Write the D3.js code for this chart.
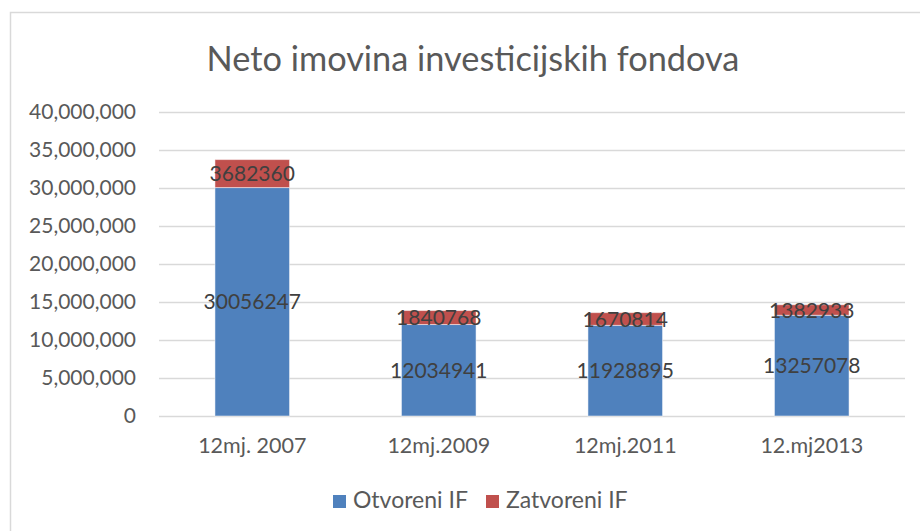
<!DOCTYPE html>
<html>
<head>
<meta charset="utf-8">
<script src="https://cdn.jsdelivr.net/npm/d3@7"></script>
<style>
  body { margin: 0; background: #fff; }
  text { font-family: Lato, "Open Sans", sans-serif; fill: #595959; }
</style>
</head>
<body>
<div id="chart"></div>
<script>
// data
var categories = ["12mj. 2007", "12mj.2009", "12mj.2011", "12.mj2013"];
var otvoreni = [30056247, 12034941, 11928895, 13257078];
var zatvoreni = [3682360, 1840768, 1670814, 1382933];
var seriesNames = ["Otvoreni IF", "Zatvoreni IF"];
var seriesColors = ["#4F81BD", "#C0504D"];
var yTicks = [0, 5000000, 10000000, 15000000, 20000000, 25000000, 30000000, 35000000, 40000000];

var width = 920, height = 531;

var svg = d3.select("#chart").append("svg")
    .attr("width", width)
    .attr("height", height);

// chart frame (right and bottom edges run off the picture)
svg.append("rect")
    .attr("x", 10.5).attr("y", 12.5)
    .attr("width", 940).attr("height", 560)
    .attr("fill", "#fff")
    .attr("stroke", "#d9d9d9")
    .attr("stroke-width", 1.5);

// title, sized to fit its width in the reference
var title = svg.append("text")
    .attr("x", 473).attr("y", 71)
    .attr("text-anchor", "middle")
    .style("font-size", "30px")
    .text("Neto imovina investicijskih fondova");
var tw = title.node().getComputedTextLength();
title.style("font-size", (30 * 533 / tw) + "px");

var x = d3.scaleBand()
    .domain(categories)
    .range([159, 905])
    .paddingInner(0.6)
    .paddingOuter(0.3);

var y = d3.scaleLinear()
    .domain([0, 40000000])
    .range([416, 112]);

// gridlines + y labels
var yAxis = svg.append("g")
    .attr("transform", "translate(159,0)")
    .call(d3.axisLeft(y)
        .tickValues(yTicks)
        .tickSize(-746)
        .tickPadding(23)
        .tickFormat(d3.format(",")));
yAxis.select(".domain").remove();
yAxis.selectAll(".tick line").attr("stroke", "#d9d9d9").attr("stroke-width", 1.5);
yAxis.selectAll(".tick text")
    .style("font-size", "21px")
    .style("font-family", "Lato, sans-serif")
    .attr("fill", "#595959");

// x labels
var xAxis = svg.append("g")
    .attr("transform", "translate(0,416)")
    .call(d3.axisBottom(x).tickSize(0).tickPadding(22));
xAxis.select(".domain").remove();
xAxis.selectAll(".tick text")
    .style("font-size", "21.5px")
    .style("font-family", "Lato, sans-serif")
    .attr("fill", "#595959");

// stacked bars
var rows = categories.map(function(c, i) {
    return { cat: c, Otvoreni: otvoreni[i], Zatvoreni: zatvoreni[i] };
});
var stack = d3.stack().keys(["Otvoreni", "Zatvoreni"])(rows);

var layers = svg.selectAll("g.layer")
    .data(stack)
    .enter().append("g")
    .attr("class", "layer")
    .attr("fill", function(d, i) { return seriesColors[i]; });

layers.selectAll("rect")
    .data(function(d) { return d; })
    .enter().append("rect")
    .attr("x", function(d) { return x(d.data.cat); })
    .attr("y", function(d) { return y(d[1]); })
    .attr("width", x.bandwidth())
    .attr("height", function(d) { return y(d[0]) - y(d[1]); })
    .attr("stroke", "#fff")
    .attr("stroke-opacity", 0.5)
    .attr("stroke-width", 1);

// data labels
layers.selectAll("text")
    .data(function(d) { return d; })
    .enter().append("text")
    .attr("x", function(d) { return x(d.data.cat) + x.bandwidth() / 2; })
    .attr("y", function(d) { return (y(d[0]) + y(d[1])) / 2; })
    .attr("dy", "0.36em")
    .attr("text-anchor", "middle")
    .style("font-size", "21px")
    .style("fill", "#404040")
    .text(function(d) { return d[1] - d[0]; });

// legend
var legendX = [333, 486];
var legend = svg.selectAll("g.legend")
    .data(seriesNames)
    .enter().append("g")
    .attr("class", "legend")
    .attr("transform", function(d, i) { return "translate(" + legendX[i] + ",495)"; });
legend.append("rect")
    .attr("width", 13).attr("height", 13)
    .attr("fill", function(d, i) { return seriesColors[i]; });
legend.append("text")
    .attr("x", 20).attr("y", 13)
    .style("font-size", "23px")
    .text(function(d) { return d; });
</script>
</body>
</html>
